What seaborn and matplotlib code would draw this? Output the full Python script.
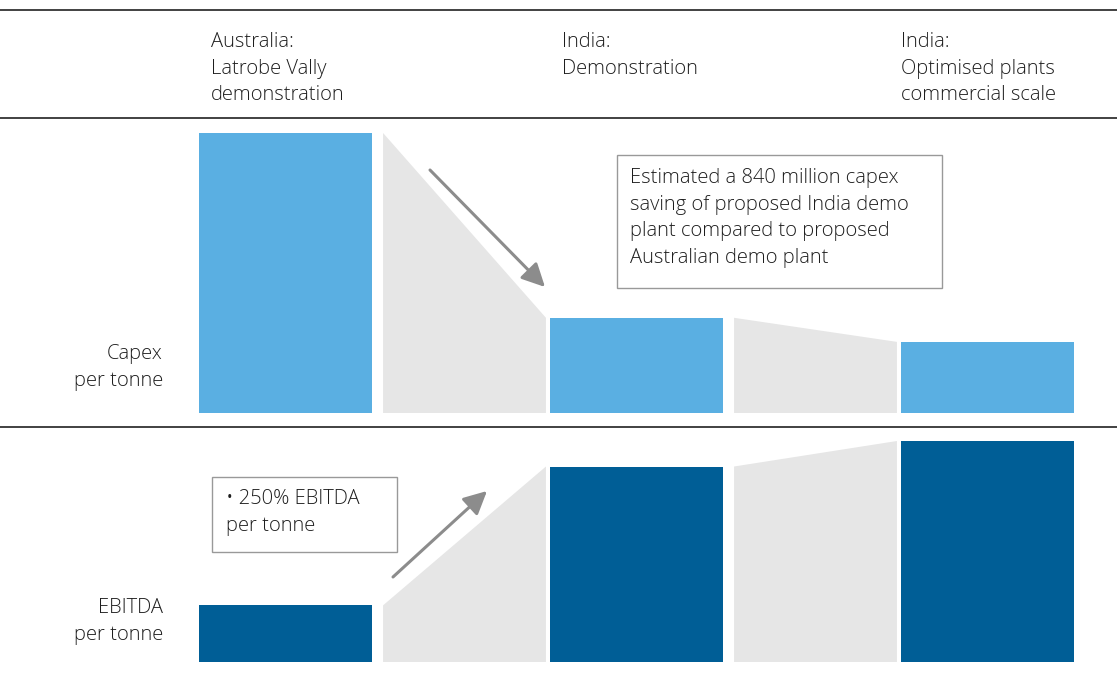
import matplotlib
matplotlib.use("Agg")
import matplotlib.pyplot as plt
from matplotlib.patches import Polygon, Rectangle, FancyArrowPatch
from matplotlib.lines import Line2D
import seaborn as sns
import pandas as pd

# ---- data -------------------------------------------------------------
stages = ["Australia:\nLatrobe Vally\ndemonstration",
          "India:\nDemonstration",
          "India:\nOptimised plants\ncommercial scale"]
capex_per_tonne = [100, 34, 25.4]     # indexed, Australia demo = 100
ebitda_per_tonne = [1.0, 3.45, 3.9]   # indexed, Australia demo = 1
row_labels = ["Capex\nper tonne", "EBITDA\nper tonne"]
capex_note = ("Estimated a 840 million capex\nsaving of proposed India demo\n"
              "plant compared to proposed\nAustralian demo plant")
ebitda_note = "\u2022 250% EBITDA\nper tonne"

LIGHT_BLUE = "#5AAFE2"
DARK_BLUE = "#005E96"
BRIDGE = "#E6E6E6"
TEXT = "#1E1E1E"
ARROW = "#8C8C8C"

sns.set_theme(style="white")
plt.rcParams["font.family"] = ["Open Sans", "DejaVu Sans"]

W, H = 1117, 678
fig = plt.figure(figsize=(W / 100, H / 100), dpi=100)


def fx(px):
    return px / W


def fy(py):
    return 1 - py / H


# category 0 centre at 285.5 px, spacing 351 px
BAR_W = 0.493
X0_PX, STEP_PX = 285.5, 351.0
XL = ((199 - X0_PX) / STEP_PX, (1074 - X0_PX) / STEP_PX)


def panel(bottom_px, height_px, values, color, ymax):
    ax = fig.add_axes([fx(199), fy(bottom_px), fx(1074) - fx(199), height_px / H])
    df = pd.DataFrame({"stage": [0, 1, 2], "value": values})
    sns.barplot(data=df, x="stage", y="value", color=color, width=BAR_W,
                saturation=1, order=[0, 1, 2], ax=ax, linewidth=0)
    ax.set_xlim(*XL)
    ax.set_ylim(0, ymax)
    # grey bridges between consecutive bars
    for i in range(len(values) - 1):
        x_a, x_b = i + 0.278, i + 0.742
        poly = Polygon([(x_a, 0), (x_a, values[i]), (x_b, values[i + 1]), (x_b, 0)],
                       closed=True, facecolor=BRIDGE, edgecolor="none",
                       clip_on=False, zorder=0)
        ax.add_patch(poly)
    ax.axis("off")
    return ax


ax_capex = panel(413, 280, capex_per_tonne, LIGHT_BLUE, capex_per_tonne[0])
ax_ebitda = panel(662, 221, ebitda_per_tonne, DARK_BLUE, ebitda_per_tonne[2])

# horizontal rules
for ypx in (10, 118, 427):
    fig.add_artist(Line2D([0, 1], [fy(ypx), fy(ypx)], color="#333333", lw=1.3))

FS = 14.5
LS = 1.44
TXT = dict(fontsize=FS, color=TEXT, linespacing=LS, fontweight="light")

# column headings
for xpx, label in zip((211, 562, 901), stages):
    fig.text(fx(xpx), fy(32), label, ha="left", va="top", **TXT)

# row labels
fig.text(fx(163), fy(344), row_labels[0], ha="right", va="top", **TXT)
fig.text(fx(163), fy(598), row_labels[1], ha="right", va="top", **TXT)

# annotation boxes
fig.add_artist(Rectangle((fx(617), fy(288)), fx(942) - fx(617), fy(155) - fy(288),
                         facecolor="white", edgecolor="#999999", lw=1.0,
                         transform=fig.transFigure))
fig.text(fx(630), fy(168), capex_note, ha="left", va="top", **TXT)

fig.add_artist(Rectangle((fx(212), fy(552)), fx(397) - fx(212), fy(477) - fy(552),
                         facecolor="white", edgecolor="#999999", lw=1.0,
                         transform=fig.transFigure))
fig.text(fx(226), fy(489), ebitda_note, ha="left", va="top", **TXT)

# trend arrows
arrow_style = dict(arrowstyle="-|>,head_length=1.0,head_width=0.5",
                   color=ARROW, lw=2.2, shrinkA=0, shrinkB=0)
fig.add_artist(FancyArrowPatch((fx(430), fy(170)), (fx(545), fy(287)),
                               transform=fig.transFigure, mutation_scale=14,
                               **arrow_style))
fig.add_artist(FancyArrowPatch((fx(393), fy(577)), (fx(487), fy(491)),
                               transform=fig.transFigure, mutation_scale=14,
                               **arrow_style))

fig.savefig("out.png", dpi=100, facecolor="white")
